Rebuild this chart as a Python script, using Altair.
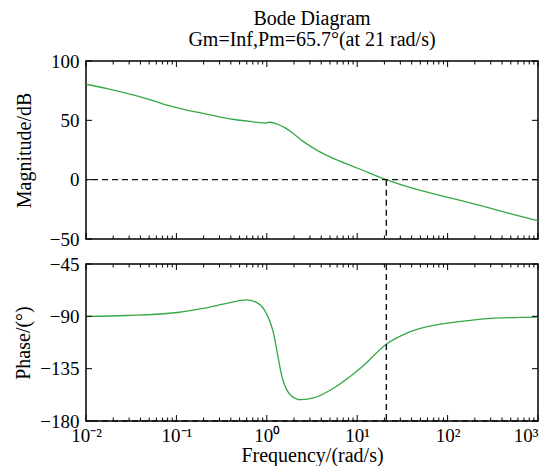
import altair as alt
import pandas as pd

# ---------------- data ----------------
mag_freq = [0.01, 0.0171, 0.029, 0.0496, 0.0845, 0.144, 0.245, 0.418, 0.713, 0.973,
            1.06, 1.26, 1.58, 1.90, 2.48, 3.53, 6.03, 10.3, 20.9, 38.9, 72.4, 135, 251, 468, 1000]
mag_db = [80.4, 76.7, 72.5, 67.7, 62.1, 57.9, 54.3, 50.9, 48.7, 47.6,
          48.4, 47.3, 43.9, 39.7, 32.7, 25.1, 16.4, 9.4, 0.0, -6.8, -12.1, -17.2, -22.5, -28.1, -34.6]

phase_freq = [0.01, 0.0289, 0.103, 0.204, 0.369, 0.589, 0.76, 0.94, 1.16, 1.5,
              1.85, 2.39, 3.35, 5.58, 11.0, 20.8, 39.4, 141, 329, 1000]
phase_deg = [-90.1, -89.3, -86.7, -83.0, -78.7, -75.8, -77.8, -84.4, -101.5, -144.3,
             -158.0, -161.7, -160.0, -151.4, -134.3, -114.3, -103.0, -94.4, -91.5, -90.6]

crossover_freq = [21]
mag_ref_line = [0]
mag_low = [-50]
phase_ref_line = [-180]

x_major = [0.01, 0.1, 1, 10, 100, 1000]
x_minor = [m * 10.0 ** d for d in range(-2, 3) for m in range(2, 10)]
mag_ticks = [-50, 0, 50, 100]
phase_ticks = [-180, -135, -90, -45]

title_lines = ["Bode Diagram", "Gm=Inf,Pm=65.7°(at 21 rad/s)"]

# ---------------- styling ----------------
FONT = "Liberation Serif"
W, H1, H2 = 452, 178, 157
GREEN = "#35a845"
DASH = [6, 4]

xscale = alt.Scale(type="log", domain=[0.01, 1000], nice=False)

label_expr = ("datum.value < 0.05 ? '10⁻²' : datum.value < 0.5 ? '10⁻¹' : "
              "datum.value < 5 ? '10⁰' : datum.value < 50 ? '10¹' : "
              "datum.value < 500 ? '10²' : '10³'")

x_axis_bottom = alt.Axis(values=x_major, labelExpr=label_expr, title="Frequency/(rad/s)",
                         ticks=False, domain=False, grid=False, labelFont=FONT,
                         labelFontSize=19, titleFont=FONT, titleFontSize=20,
                         titleFontWeight="normal", labelPadding=5, titlePadding=0,
                         labelFlush=False, labelColor="black", titleColor="black",
                         labelAlign={"condition": {"test": "datum.value > 500", "value": "right"},
                                     "value": "center"})


def y_axis(vals, title):
    return alt.Axis(values=vals, title=title, ticks=False, domain=False, grid=False,
                    labelFont=FONT, labelFontSize=19, titleFont=FONT, titleFontSize=20,
                    titleFontWeight="normal", labelPadding=7, titlePadding=6,
                    minExtent=46, labelColor="black", titleColor="black")


def panel(df_line, ydom, yvals, ytitle, height, xaxis, hline, vline_df, yticks):
    X = alt.X("f:Q", scale=xscale, axis=xaxis)
    Y = alt.Y("v:Q", scale=alt.Scale(domain=ydom, nice=False, zero=False),
              axis=y_axis(yvals, ytitle))
    layers = []
    layers.append(alt.Chart(df_line).mark_line(color=GREEN, strokeWidth=1.3,
                                               interpolate="monotone", clip=True)
                  .encode(x=X, y=Y))
    # dashed horizontal reference
    layers.append(alt.Chart(pd.DataFrame({"v": hline})).mark_rule(
        color="#111", strokeWidth=1.4, strokeDash=DASH).encode(y=Y))
    # dashed vertical at crossover
    layers.append(alt.Chart(vline_df).mark_rule(
        color="#111", strokeWidth=1.4, strokeDash=DASH).encode(
        **({"x": X, "y": Y, "y2": "v2:Q"} if "v2" in vline_df else {"x": X})))
    # inward ticks on x (top and bottom edges)
    maj = pd.DataFrame({"f": x_major})
    mnr = pd.DataFrame({"f": x_minor})
    for d, L in ((maj, 6), (mnr, 3.5)):
        layers.append(alt.Chart(d).mark_rule(color="black", strokeWidth=1)
                      .encode(x=X, y=alt.value(0), y2=alt.value(L)))
        layers.append(alt.Chart(d).mark_rule(color="black", strokeWidth=1)
                      .encode(x=X, y=alt.value(height), y2=alt.value(height - L)))
    # inward ticks on y (left and right edges)
    yt = pd.DataFrame({"v": yticks})
    layers.append(alt.Chart(yt).mark_rule(color="black", strokeWidth=1)
                  .encode(y=Y, x=alt.value(0), x2=alt.value(6)))
    layers.append(alt.Chart(yt).mark_rule(color="black", strokeWidth=1)
                  .encode(y=Y, x=alt.value(W - 6), x2=alt.value(W)))
    return layers


mag_df = pd.DataFrame({"f": mag_freq, "v": mag_db})
phase_df = pd.DataFrame({"f": phase_freq, "v": phase_deg})

top_vline = pd.DataFrame({"f": crossover_freq, "v": mag_ref_line, "v2": mag_low})
bot_vline = pd.DataFrame({"f": crossover_freq})

top_layers = panel(mag_df, [-50, 100], mag_ticks, "Magnitude/dB", H1, None,
                   mag_ref_line, top_vline, mag_ticks)

# two-line chart title, drawn as text above the top panel
for i, yy in enumerate((-36, -15)):
    top_layers.append(
        alt.Chart(pd.DataFrame({"t": [title_lines[i]]}))
        .mark_text(font=FONT, fontSize=20, align="center", baseline="alphabetic",
                   color="black")
        .encode(text="t:N", x=alt.value(W / 2), y=alt.value(yy))
    )

top = alt.layer(*top_layers).properties(width=W, height=H1)

bottom = alt.layer(*panel(phase_df, [-180, -45], phase_ticks, "Phase/(°)", H2, x_axis_bottom,
                          phase_ref_line, bot_vline, phase_ticks)).properties(width=W, height=H2)

chart = alt.vconcat(top, bottom, spacing=4).properties(
    padding={"left": 5, "top": 0, "right": 0, "bottom": 0}
).configure_view(stroke="black", strokeWidth=1.5)

chart.save("out.html", embed_options={"renderer": "svg", "actions": False})
